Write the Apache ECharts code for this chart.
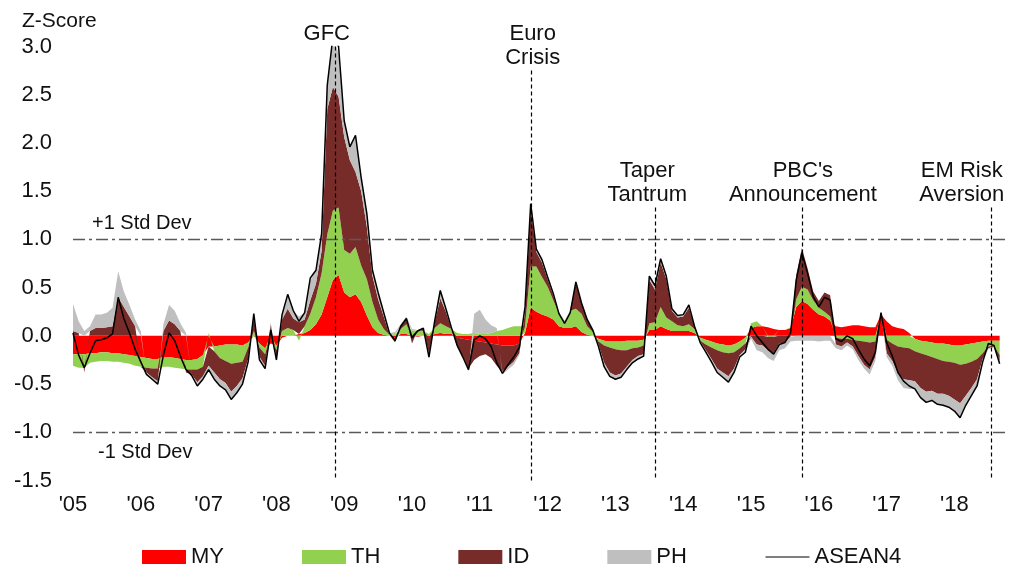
<!DOCTYPE html>
<html>
<head>
<meta charset="utf-8">
<title>ASEAN4 Z-Score</title>
<script src="https://cdn.jsdelivr.net/npm/echarts@6.0.0/dist/echarts.min.js"></script>
<style>
    html, body { margin: 0; padding: 0; background: #fff; }
    #main { width: 1010px; height: 574px; }
</style>
</head>
<body>
<div id="main"></div>
<script>
// monthly readings, Jan 2005 .. Sep 2018
var MY = [
    -0.19,-0.19,-0.19,-0.18,-0.18,-0.17,-0.17,-0.18,-0.18,-0.19,-0.2,-0.21,
    -0.22,-0.23,-0.24,-0.24,-0.22,-0.22,-0.23,-0.24,-0.25,-0.25,-0.24,-0.2,
    -0.11,-0.11,-0.1,-0.09,-0.09,-0.09,-0.1,-0.07,0.0,-0.08,-0.13,-0.08,
    -0.1,-0.02,0.0,0.0,0.02,0.03,0.06,0.12,0.22,0.4,0.58,0.63,
    0.45,0.4,0.43,0.35,0.21,0.09,0.03,0.01,0.0,-0.02,0.02,0.02,
    0.0,-0.01,0.0,-0.02,0.02,0.03,0.02,0.02,-0.02,-0.03,-0.04,-0.05,
    -0.06,-0.07,-0.08,-0.09,-0.1,-0.1,-0.1,-0.08,0.03,0.29,0.25,0.22,
    0.2,0.17,0.1,0.08,0.08,0.1,0.04,0.01,0.0,-0.03,-0.05,-0.06,
    -0.06,-0.06,-0.05,-0.05,-0.05,-0.04,0.06,0.06,0.1,0.07,0.05,0.05,
    0.05,0.05,0.03,-0.02,-0.04,-0.06,-0.08,-0.09,-0.1,-0.09,-0.06,-0.02,
    0.08,0.1,0.1,0.09,0.07,0.06,0.06,0.08,0.3,0.36,0.33,0.27,
    0.22,0.2,0.16,0.1,0.09,0.1,0.11,0.11,0.1,0.09,0.09,0.22,
    0.15,0.1,0.08,0.07,0.03,-0.03,-0.05,-0.06,-0.07,-0.08,-0.08,-0.09,
    -0.1,-0.1,-0.09,-0.08,-0.07,-0.06,-0.05,-0.05,-0.05
];
var TH = [
    -0.12,-0.14,-0.14,-0.1,-0.09,-0.09,-0.09,-0.09,-0.09,-0.09,-0.09,-0.1,
    -0.1,-0.1,-0.1,-0.1,-0.1,-0.1,-0.1,-0.1,-0.1,-0.1,-0.11,-0.12,
    0.03,-0.05,-0.13,-0.17,-0.2,-0.19,-0.17,-0.05,0.05,-0.04,-0.06,0.02,
    -0.05,0.05,0.08,0.06,-0.05,0.07,0.17,0.28,0.43,0.65,0.72,0.7,
    0.44,0.45,0.49,0.38,0.38,0.26,0.14,0.06,0.01,0.02,0.05,0.1,
    0.05,0.06,0.05,0.02,0.06,0.1,0.08,0.05,0.03,0.02,0.02,0.03,
    0.02,0.02,0.03,0.05,0.06,0.08,0.1,0.1,0.07,0.43,0.47,0.39,
    0.31,0.2,0.13,0.07,0.18,0.18,0.19,0.09,0.04,-0.03,-0.05,-0.06,
    -0.08,-0.09,-0.1,-0.08,-0.07,-0.06,0.07,0.08,0.2,0.12,0.1,0.06,
    0.05,0.07,0.04,-0.03,-0.05,-0.06,-0.07,-0.08,-0.08,-0.08,-0.07,-0.06,
    0.05,0.05,0.0,-0.01,-0.01,0.0,0.0,0.01,0.08,0.15,0.15,0.1,
    0.07,0.05,0.04,-0.02,-0.03,-0.03,-0.04,-0.05,-0.06,-0.07,-0.06,0.0,
    -0.04,-0.08,-0.11,-0.12,-0.13,-0.13,-0.13,-0.14,-0.15,-0.16,-0.18,-0.18,
    -0.18,-0.2,-0.2,-0.19,-0.17,-0.12,-0.06,-0.05,-0.15
];
var ID = [
    0.05,0.03,-0.05,0.05,0.08,0.08,0.09,0.1,0.4,0.3,0.2,0.1,
    0.0,-0.05,-0.09,-0.13,0.05,0.16,0.12,0.05,-0.03,-0.05,-0.13,-0.1,
    -0.2,-0.22,-0.22,-0.23,-0.29,-0.24,-0.17,-0.12,0.15,-0.1,-0.12,0.1,
    -0.08,0.12,0.2,0.12,0.12,0.07,0.14,0.14,0.23,1.3,1.28,1.15,
    1.17,0.97,0.78,0.77,0.54,0.27,0.21,0.13,0.0,-0.05,0.03,0.05,
    -0.08,0.0,0.03,-0.17,0.06,0.26,0.15,0.0,-0.1,-0.18,-0.3,-0.2,
    -0.15,-0.12,-0.15,-0.22,-0.27,-0.22,-0.17,-0.1,0.15,0.6,0.15,0.15,
    0.08,0.05,0.0,0.0,0.0,0.27,0.11,0.07,0.02,-0.03,-0.18,-0.26,
    -0.27,-0.24,-0.17,-0.12,-0.09,-0.09,0.45,0.34,0.46,0.4,0.11,0.08,
    0.1,0.17,0.03,-0.01,-0.06,-0.12,-0.19,-0.21,-0.24,-0.17,-0.07,-0.06,
    -0.01,-0.09,-0.1,-0.14,-0.17,-0.08,-0.07,-0.01,0.25,0.4,0.22,0.09,
    0.07,0.2,0.22,-0.07,-0.08,-0.04,-0.07,-0.16,-0.24,-0.28,-0.16,0.02,
    -0.14,-0.18,-0.28,-0.33,-0.33,-0.31,-0.36,-0.38,-0.35,-0.36,-0.34,-0.35,
    -0.38,-0.4,-0.33,-0.27,-0.21,-0.06,-0.02,-0.01,-0.06
];
var PH = [
    0.28,0.12,0.05,0.05,0.14,0.14,0.15,0.19,0.27,0.16,0.12,0.07,
    0.05,-0.02,-0.02,-0.03,0.07,0.16,0.14,0.08,0.03,-0.01,-0.04,-0.03,
    -0.06,-0.07,-0.07,-0.07,-0.08,-0.07,-0.06,-0.03,0.03,-0.03,-0.03,0.02,
    -0.04,0.06,0.15,0.08,0.06,0.07,0.2,0.14,0.18,0.2,0.5,0.45,
    0.17,0.14,0.38,0.14,0.14,0.06,0.07,0.04,0.02,0.02,0.02,0.03,
    0.02,0.0,0.0,-0.05,0.02,0.09,0.03,0.02,0.0,-0.03,-0.03,0.2,
    0.25,0.15,0.08,0.03,-0.03,-0.03,-0.03,-0.02,0.05,0.05,0.03,0.03,
    0.02,0.02,0.02,0.01,0.0,0.02,0.0,0.0,0.0,-0.02,-0.04,-0.04,
    -0.04,-0.04,-0.03,-0.03,-0.03,-0.02,0.04,0.04,0.04,0.03,0.02,0.02,
    0.02,0.03,0.0,-0.01,-0.02,-0.03,-0.04,-0.05,-0.06,-0.04,-0.02,-0.03,
    -0.02,-0.06,-0.07,-0.08,-0.08,-0.07,-0.06,-0.05,-0.05,-0.05,-0.05,-0.05,
    -0.06,-0.05,-0.05,-0.04,-0.04,-0.03,-0.03,-0.04,-0.04,-0.05,-0.04,0.0,
    -0.04,-0.05,-0.07,-0.09,-0.09,-0.08,-0.1,-0.11,-0.1,-0.11,-0.12,-0.12,
    -0.12,-0.15,-0.1,-0.08,-0.07,-0.03,-0.01,-0.01,-0.03
];
var ASEAN4 = [
    0.03,-0.2,-0.33,-0.18,-0.05,-0.04,-0.02,0.02,0.4,0.18,0.03,-0.14,
    -0.27,-0.4,-0.45,-0.5,-0.2,0.03,-0.05,-0.21,-0.35,-0.41,-0.52,-0.45,
    -0.35,-0.45,-0.52,-0.56,-0.66,-0.59,-0.5,-0.27,0.23,-0.25,-0.34,0.06,
    -0.25,0.22,0.43,0.26,0.15,0.24,0.6,0.68,1.06,2.6,3.1,3.0,
    2.23,1.96,2.08,1.64,1.27,0.68,0.45,0.24,0.03,-0.05,0.1,0.18,
    -0.02,0.05,0.08,-0.22,0.15,0.47,0.28,0.08,-0.1,-0.22,-0.35,-0.04,
    0.0,-0.03,-0.11,-0.28,-0.39,-0.3,-0.22,-0.12,0.3,1.37,0.9,0.79,
    0.61,0.44,0.23,0.13,0.24,0.56,0.34,0.17,0.06,-0.11,-0.32,-0.42,
    -0.45,-0.43,-0.35,-0.28,-0.24,-0.21,0.62,0.52,0.8,0.62,0.28,0.21,
    0.22,0.32,0.1,-0.07,-0.17,-0.27,-0.38,-0.43,-0.48,-0.38,-0.22,-0.17,
    0.1,0.0,-0.07,-0.14,-0.19,-0.09,-0.07,0.03,0.58,0.86,0.65,0.41,
    0.3,0.4,0.37,-0.03,-0.06,0.0,-0.03,-0.14,-0.24,-0.31,-0.17,0.24,
    -0.07,-0.21,-0.38,-0.47,-0.52,-0.55,-0.64,-0.69,-0.67,-0.71,-0.72,-0.74,
    -0.78,-0.85,-0.72,-0.62,-0.52,-0.27,-0.08,-0.1,-0.29
];

// event markers (decimal years) and how high their dashed line starts
var eventNames = ['GFC', 'Euro\nCrisis', 'Taper\nTantrum', "PBC's\nAnnouncement", 'EM Risk\nAversion'];
var eventDates = [2008.875, 2011.765, 2013.58, 2015.75, 2018.55];
var eventTops = [3.0, 2.75, 1.33, 1.33, 1.33];
var eventPad = [[0, 18, 0, 0], [0, 0, 0, 2], [0, 15, 0, 0], [0, 0, 0, 2], [0, 60, 0, 0]];

var stdNames = ['+1 Std Dev', '-1 Std Dev'];
var stdValues = [1, -1];

var FONT = "'Liberation Sans', Arial, sans-serif";

// month categories Jan 2005 .. Oct 2018 (last one is empty room on the right)
var months = [];
for (var i = 0; i < 166; i++) {
    months.push((2005 + Math.floor(i / 12)) + '-' + (i % 12 + 1));
}

function areaSeries(name, values, color) {
    return {
        name: name,
        type: 'line',
        stack: 'z',
        stackStrategy: 'samesign',
        data: values,
        symbol: 'none',
        showSymbol: false,
        itemStyle: { color: color },
        lineStyle: { width: 0 },
        areaStyle: { color: color, opacity: 1 },
        animation: false
    };
}

var eventLines = eventDates.map(function (d, i) {
    return [
        { name: eventNames[i], coord: [d, eventTops[i]], label: { padding: eventPad[i] } },
        { coord: [d, -1.5] }
    ];
});

var stdLines = [
    { name: stdNames[0], yAxis: stdValues[0], label: { position: 'insideStartTop', distance: [19, 6] } },
    { name: stdNames[1], yAxis: stdValues[1], label: { position: 'insideStartBottom', distance: [25, 10] } }
];

var myChart = echarts.init(document.getElementById('main'), null, { renderer: 'canvas' });

var series = [
    areaSeries('MY', MY, '#ff0000'),
    areaSeries('TH', TH, '#92d050'),
    areaSeries('ID', ID, '#772c2a'),
    areaSeries('PH', PH, '#bfbfbf')
];
// dash-dot +/-1 std dev lines hang off the PH series
series[3].markLine = {
    silent: true,
    symbol: 'none',
    animation: false,
    lineStyle: { color: '#595959', width: 1.3, type: [12, 4, 3, 4] },
    label: { formatter: '{b}', color: '#111', fontSize: 20, fontFamily: FONT },
    data: stdLines
};
series.push({
    name: 'ASEAN4',
    type: 'line',
    data: ASEAN4,
    symbol: 'none',
    showSymbol: false,
    itemStyle: { color: '#000' },
    lineStyle: { color: '#000', width: 1.5 },
    z: 5,
    animation: false
});
// empty series on the year axis, only carries the event lines
series.push({
    name: 'events',
    type: 'line',
    xAxisIndex: 1,
    data: [],
    animation: false,
    markLine: {
        silent: true,
        symbol: 'none',
        animation: false,
        lineStyle: { color: '#000', width: 1.2, type: [4, 3] },
        label: {
            position: 'start',
            distance: 1,
            formatter: '{b}',
            color: '#111',
            fontSize: 22,
            lineHeight: 24,
            fontFamily: FONT,
            align: 'center'
        },
        data: eventLines
    }
});

myChart.setOption({
    backgroundColor: '#fff',
    animation: false,
    textStyle: { fontFamily: FONT },
    title: {
        text: 'Z-Score',
        left: 17,
        top: 6,
        textStyle: { fontSize: 21, fontWeight: 'normal', color: '#111', fontFamily: FONT }
    },
    grid: { left: 73, right: 4.7, top: 46.5, bottom: 93.5 },
    legend: {
        left: 137,
        top: 541,
        itemWidth: 44,
        itemHeight: 14,
        itemGap: 78,
        textStyle: { fontSize: 22, color: '#111', fontFamily: FONT },
        data: [
            { name: 'MY', icon: 'rect' },
            { name: 'TH', icon: 'rect' },
            { name: 'ID', icon: 'rect' },
            { name: 'PH', icon: 'rect' },
            { name: 'ASEAN4', itemStyle: { color: 'rgba(0,0,0,0)', borderWidth: 0 }, lineStyle: { width: 1.2 } }
        ]
    },
    xAxis: [
        {
            type: 'category',
            data: months,
            boundaryGap: false,
            show: false
        },
        {
            type: 'value',
            position: 'bottom',
            min: 2005,
            max: 2018.75,
            interval: 1,
            axisLine: { show: false },
            axisTick: { show: false },
            splitLine: { show: false },
            axisLabel: {
                margin: 13,
                fontSize: 22,
                color: '#111',
                fontFamily: FONT,
                showMaxLabel: false,
                formatter: function (v) {
                    return v % 1 === 0 ? "'" + String(v).slice(2) : '';
                }
            }
        }
    ],
    yAxis: {
        type: 'value',
        min: -1.5,
        max: 3,
        interval: 0.5,
        axisLine: { show: false },
        axisTick: { show: false },
        splitLine: { show: false },
        axisLabel: {
            margin: 21,
            fontSize: 22,
            color: '#111',
            fontFamily: FONT,
            formatter: function (v) { return v.toFixed(1); }
        }
    },
    series: series
});

window.onresize = myChart.resize;
</script>
</body>
</html>
